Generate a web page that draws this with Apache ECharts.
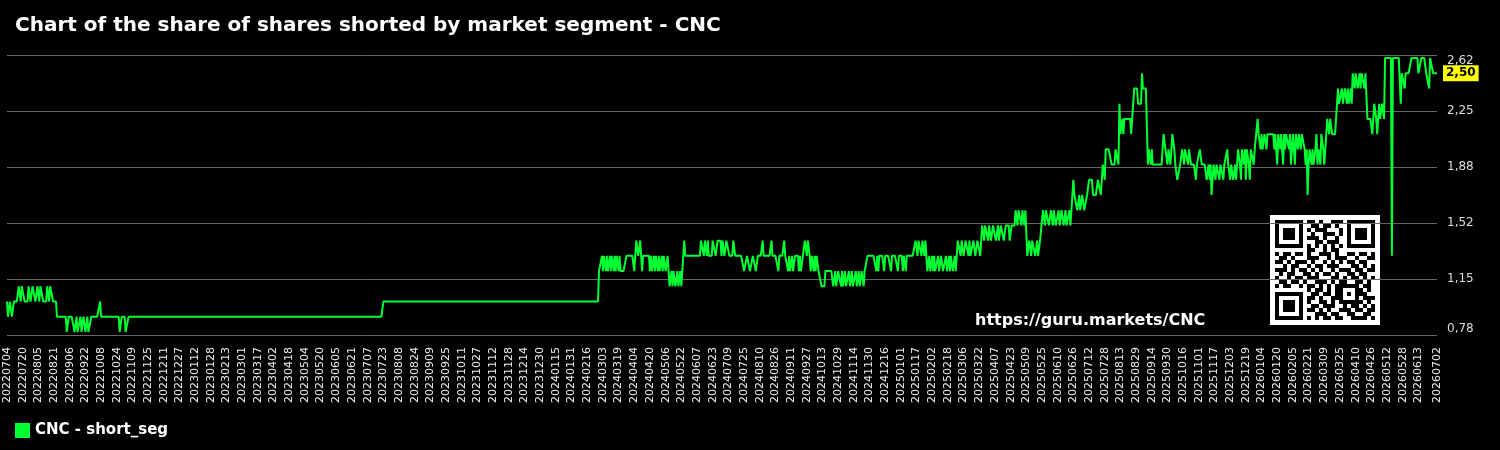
<!DOCTYPE html>
<html>
<head>
<meta charset="utf-8">
<script src="https://cdn.jsdelivr.net/npm/echarts@6/dist/echarts.min.js"></script>
<style>
  html, body { margin: 0; padding: 0; background: #000; }
  #chart { width: 1500px; height: 450px; }
</style>
</head>
<body>
<div id="chart"></div>
<script>
// share of shorted shares as [value, number of days]
const startDate = [2022, 7, 4]
const runs = [
  // 2022
  [1.0,1],[0.9,2],[1.0,2],[0.9,2],[1.0,5],
  [1.1,2],[1.0,1],[1.1,3],[1.0,4],[1.1,2],[1.0,2],[1.1,3],[1.0,2],[1.1,2],[1.0,1],[1.1,3],[1.0,4],[1.1,2],[1.0,1],[1.1,3],[1.0,4],
  [0.9,10],[0.8,2],[0.9,6],
  [0.8,2],[0.9,1],[0.8,3],[0.9,1],[0.8,2],[0.9,2],[0.8,2],[0.9,1],[0.8,3],[0.9,1],
  [0.9,8],[1.0,1],[0.9,19],[0.8,2],[0.9,4],[0.8,3],
  // flat period 2022-11 .. 2024-02
  [0.9,260],[1.0,220],
  // 2024
  [1.2,3],[1.3,1],[1.2,1],[1.3,2],[1.2,1],[1.3,1],[1.2,2],[1.3,1],[1.2,1],[1.3,2],[1.2,1],[1.3,1],[1.2,1],[1.3,2],[1.2,1],[1.3,1],[1.2,6],
  [1.3,8],[1.2,1],[1.3,1],[1.4,2],[1.3,2],[1.4,2],[1.2,1],[1.3,7],
  [1.2,1],[1.3,1],[1.2,2],[1.3,1],[1.2,1],[1.3,2],[1.2,1],[1.3,1],[1.2,2],[1.3,1],[1.2,1],[1.3,2],[1.2,2],[1.3,2],
  [1.1,2],[1.2,1],[1.1,1],[1.2,2],[1.1,2],[1.2,1],[1.1,2],[1.2,1],[1.1,3],
  [1.4,1],[1.3,16],
  [1.4,3],[1.3,1],[1.4,2],[1.3,1],[1.4,1],[1.3,4],[1.4,3],[1.3,2],[1.4,4],[1.3,1],[1.4,2],[1.3,2],[1.4,3],[1.3,4],[1.4,2],[1.3,1],
  [1.3,8],
  [1.2,3],[1.3,3],[1.2,3],[1.3,3],[1.2,2],[1.3,2],
  [1.3,3],[1.4,1],[1.3,8],[1.4,1],[1.3,6],[1.2,1],[1.3,5],[1.4,1],[1.3,3],[1.2,1],[1.3,1],[1.2,2],[1.3,1],[1.2,2],[1.3,4],
  [1.2,1],[1.3,1],[1.2,2],[1.3,2],[1.4,2],[1.3,1],[1.4,2],[1.3,1],[1.2,1],[1.3,2],[1.2,1],[1.3,1],[1.2,1],[1.3,2],[1.2,1],
  [1.2,2],[1.1,4],[1.2,8],[1.1,2],[1.2,1],[1.1,2],[1.2,3],[1.1,1],[1.2,1],[1.1,2],[1.2,1],[1.1,3],[1.2,1],[1.1,2],[1.2,1],
  [1.1,3],[1.2,1],[1.1,2],[1.2,1],[1.1,2],[1.2,2],[1.1,1],[1.2,2],[1.2,1],
  [1.3,9],[1.2,1],[1.3,1],[1.2,1],[1.3,5],[1.2,1],[1.3,6],[1.2,1],[1.3,6],[1.2,1],[1.3,4],[1.2,1],[1.3,2],[1.2,1],[1.3,9],
  // 2025
  [1.4,2],[1.3,1],[1.4,3],[1.3,1],[1.4,2],[1.3,1],[1.4,2],
  [1.2,2],[1.3,1],[1.2,2],[1.3,1],[1.2,1],[1.3,1],[1.2,3],[1.3,1],[1.2,2],[1.3,2],[1.2,3],[1.3,1],[1.2,2],[1.3,1],[1.2,1],[1.3,2],[1.2,2],[1.3,1],[1.2,2],
  [1.4,3],[1.3,1],[1.4,2],[1.3,2],[1.4,3],[1.3,1],[1.4,1],[1.3,3],[1.4,2],[1.3,2],[1.4,3],[1.3,2],
  [1.5,2],[1.4,1],[1.5,3],[1.4,1],[1.5,2],[1.4,2],[1.5,3],[1.4,2],[1.5,1],[1.4,2],[1.5,3],[1.4,2],[1.5,4],[1.4,2],[1.5,2],
  [1.5,2],[1.6,2],[1.5,1],[1.6,3],[1.5,1],[1.6,2],[1.5,1],[1.6,2],
  [1.3,2],[1.4,2],[1.3,1],[1.4,3],[1.3,2],[1.4,1],[1.3,2],[1.4,3],
  [1.6,2],[1.5,1],[1.6,3],[1.5,2],[1.6,2],[1.5,1],[1.6,2],[1.5,3],[1.6,1],[1.5,2],[1.6,2],[1.5,2],[1.6,1],[1.5,3],[1.6,1],[1.5,3],
  [1.8,1],[1.7,3],[1.6,2],[1.7,1],[1.6,2],[1.7,2],[1.6,3],[1.7,2],
  [1.8,4],[1.7,5],[1.8,3],[1.7,1],[1.8,1],[1.9,2],[1.8,1],[2.0,6],[1.9,4],[2.0,3],[1.9,1],
  [2.3,1],[2.1,2],[2.2,1],[2.1,1],[2.2,2],[2.2,5],[2.1,3],[2.4,4],[2.3,4],[2.5,1],[2.4,5],
  [1.9,1],[2.0,2],[1.9,1],[2.0,1],[1.9,11],[2.1,2],[2.0,2],[1.9,1],[2.0,2],[1.9,2],[2.1,2],[2.0,1],[1.9,2],[1.8,3],[1.9,2],
  [2.0,2],[1.9,1],[2.0,3],[1.9,1],[2.0,2],[1.9,1],
  [1.9,4],[1.8,1],[1.9,3],[2.0,2],[1.9,5],
  [1.8,2],[1.9,1],[1.8,1],[1.9,1],[1.7,1],[1.8,1],[1.9,2],[1.8,1],[1.9,1],
  [1.9,2],[1.8,1],[1.9,3],[1.8,1],[1.9,3],[2.0,1],
  [1.9,2],[1.8,1],[1.9,2],[1.8,2],[1.9,1],[1.8,1],[1.9,1],
  [2.0,2],[1.9,1],[1.8,1],[2.0,2],[1.9,1],[2.0,1],[1.8,1],[2.0,2],[1.9,1],[1.8,1],[2.0,1],
  // 2026
  [2.0,2],[1.9,1],[2.0,3],[2.2,1],
  [2.1,2],[2.0,1],[2.1,1],[2.0,2],[2.1,2],[2.0,1],[2.1,1],[2.1,6],
  [2.0,1],[2.1,2],[1.9,1],[2.1,2],[2.0,1],[2.1,2],[1.9,1],[2.1,1],[2.0,1],[2.1,3],[2.0,1],[2.1,1],[1.9,1],[2.0,1],[2.1,2],
  [1.9,1],[2.1,2],[2.0,1],[2.1,2],[2.0,1],[2.1,1],
  [2.1,2],[2.0,1],[1.9,1],[2.0,1],[1.7,1],
  [1.9,1],[2.0,2],[1.9,1],[2.0,1],[1.9,2],[2.0,1],[2.1,1],[1.9,1],[2.0,2],[1.9,1],[2.1,2],[2.0,1],[1.9,1],[2.0,2],
  [2.2,2],[2.1,1],[2.2,2],[2.1,4],[2.2,2],
  [2.4,1],[2.3,3],[2.4,1],[2.3,2],[2.4,2],[2.3,1],[2.4,1],[2.3,2],[2.4,1],[2.3,1],
  [2.5,2],[2.4,1],[2.5,2],[2.4,2],[2.5,1],[2.4,1],[2.5,3],[2.4,1],[2.5,2],
  [2.2,5],[2.1,2],[2.3,2],[2.2,1],[2.1,2],[2.3,1],[2.2,2],[2.3,2],[2.2,1],
  [2.6,7],[1.3,1],[2.6,8],[2.3,1],[2.5,3],[2.4,1],[2.5,6],[2.6,7],[2.5,3],[2.6,5],[2.5,3],[2.4,1],[2.6,3],[2.5,5]
]
const yMin = 0.78
const yMax = 2.62
const yStep = 0.368
const labelEvery = 16

const qrRows = [
  '1111111011010011101111111',
  '1000001001101101001000001',
  '1011101010111000101011101',
  '1011101001001110101011101',
  '1011101011101001001011101',
  '1000001000110111001000001',
  '1111111010101010101111111',
  '0000000011001011000000000',
  '1011011010011101001101101',
  '0110100011100101110010011',
  '1101011101001010101101100',
  '0010110010110111000110101',
  '1110101101010010111011011',
  '0101100110101101001101100',
  '1001011011100011010110101',
  '0110110100111010110011010',
  '1011001011010101111110110',
  '0000000010110101100011010',
  '1111111001101101101011100',
  '1000001011010011100010111',
  '1011101010011010111111010',
  '1011101001101110010110101',
  '1011101011010100111011011',
  '1000001000111011001100110',
  '1111111010101101100111101'
]

const values = []
runs.forEach(r => { for (let i = 0; i < r[1]; i++) values.push(r[0]) })

const dates = []
const d0 = Date.UTC(startDate[0], startDate[1] - 1, startDate[2])
for (let i = 0; i < values.length; i++) {
  const d = new Date(d0 + i * 86400000)
  dates.push('' + d.getUTCFullYear() + String(d.getUTCMonth() + 1).padStart(2, '0') + String(d.getUTCDate()).padStart(2, '0'))
}
const last = dates.length - 1

const fmt = v => v.toFixed(2).replace('.', ',')
const font = 'DejaVu Sans'

// qr code in the corner
const qrX = 1270, qrY = 215, cell = 4
const qr = [{ type: 'rect', shape: { x: qrX, y: qrY, width: 110, height: 110 }, style: { fill: '#fff' } }]
qrRows.forEach((row, r) => {
  for (let c = 0; c < row.length; c++) {
    if (row[c] === '1') {
      qr.push({ type: 'rect', shape: { x: qrX + 5 + c * cell, y: qrY + 5 + r * cell, width: cell, height: cell }, style: { fill: '#000' } })
    }
  }
})

const chart = echarts.init(document.getElementById('chart'))
chart.setOption({
  backgroundColor: '#000',
  animation: false,
  title: {
    text: 'Chart of the share of shares shorted by market segment - CNC',
    left: 10,
    top: 11,
    textStyle: { color: '#fff', fontSize: 20, fontWeight: 'bold', fontFamily: font }
  },
  legend: {
    left: 15,
    top: 423,
    padding: 0,
    itemWidth: 15,
    itemHeight: 15,
    icon: 'rect',
    textStyle: { color: '#fff', fontSize: 15, fontWeight: 'bold', fontFamily: font }
  },
  grid: { left: 7, right: 63, top: 55, bottom: 115 },
  xAxis: {
    type: 'category',
    data: dates,
    boundaryGap: false,
    axisLine: { show: false },
    axisTick: { show: false },
    axisLabel: {
      rotate: 90,
      margin: 12,
      color: '#eee',
      fontSize: 11,
      fontFamily: font,
      // every 16th day, plus the last day (the tick just before it is dropped)
      interval: (i) => (i % labelEvery === 0 && i < last - 8) || i === last
    }
  },
  yAxis: {
    type: 'value',
    position: 'right',
    min: yMin,
    max: yMax,
    interval: yStep,
    axisLine: { show: false },
    axisTick: { show: false },
    splitLine: { lineStyle: { color: '#666', width: 1 } },
    axisLabel: {
      color: '#ddd',
      fontSize: 12,
      fontFamily: font,
      margin: 10,
      verticalAlignMinLabel: 'bottom',
      verticalAlignMaxLabel: 'top',
      formatter: fmt
    }
  },
  series: [{
    name: 'CNC - short_seg',
    type: 'line',
    data: values,
    showSymbol: false,
    color: '#00ff33',
    lineStyle: { width: 2, color: '#00ff33' },
    endLabel: {
      show: true,
      distance: 6,
      formatter: p => fmt(p.value),
      backgroundColor: '#ffff00',
      color: '#000',
      fontWeight: 'bold',
      fontSize: 12,
      fontFamily: font,
      padding: [2, 3]
    }
  }],
  graphic: [
    { type: 'group', children: qr },
    {
      type: 'text',
      left: 975,
      top: 313,
      style: { text: 'https://guru.markets/CNC', fill: '#fff', font: 'bold 16px "DejaVu Sans"' }
    }
  ]
})
</script>
</body>
</html>
